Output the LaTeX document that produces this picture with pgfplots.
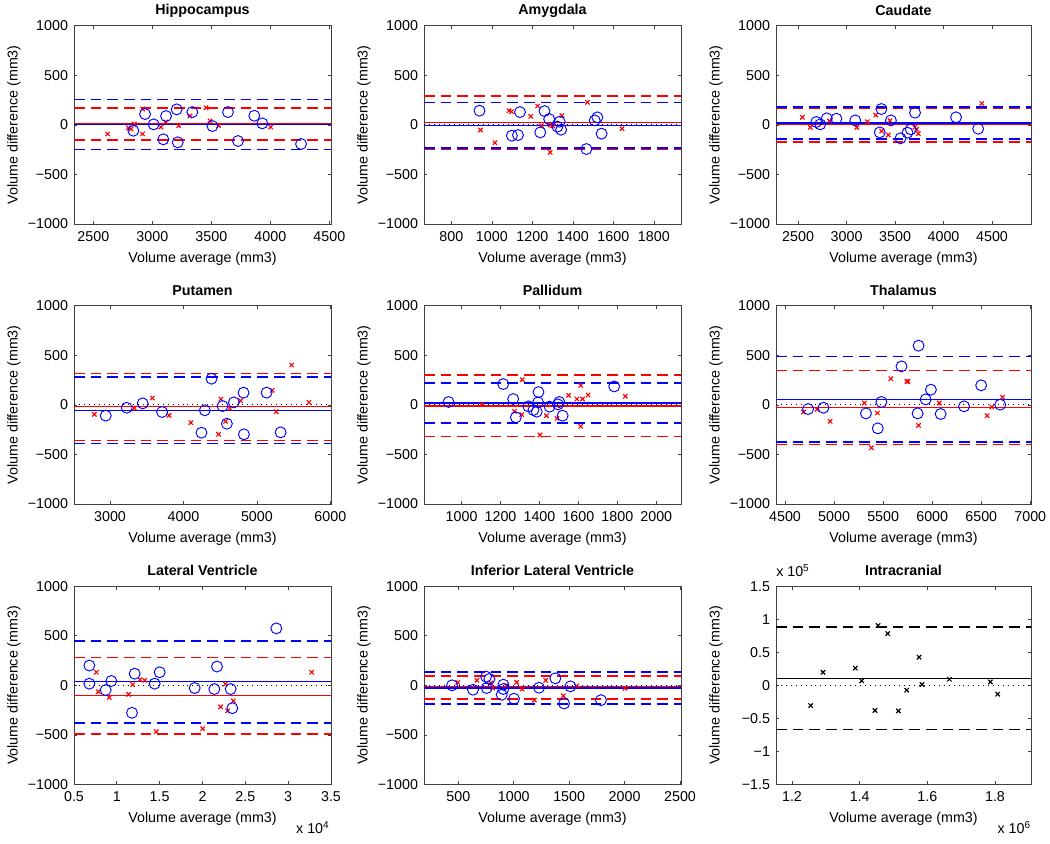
\documentclass[border=0pt]{standalone}
\usepackage{fontspec}
\setmainfont{Liberation Sans}
\usepackage{pgfplots}
\pgfplotsset{compat=1.18}
\definecolor{mblue}{rgb}{0,0,1}
\definecolor{mred}{rgb}{1,0,0}
\pgfplotsset{
  ba/.style={
    scale only axis, width=192.75pt, height=148.7pt, anchor=south west,
    clip mode=individual,
    ymin=-1000, ymax=1000, ytick={-1000,-500,0,500,1000},
    yticklabels={−1000,−500,0,500,1000},
    tick align=inside, major tick length=2.5pt,
    scaled ticks=false,
    font=\fontsize{10.7}{12.8}\selectfont,
    xlabel={Volume average (mm3)}, ylabel={Volume difference (mm3)},
    xlabel style={at={(axis description cs:0.5,0)}, anchor=center, yshift=-26pt},
    ylabel style={at={([xshift=-45pt]axis description cs:0,0.5)}, anchor=center, rotate=0},
    title style={at={(axis description cs:0.5,1)}, anchor=center, yshift=5.5pt, font=\fontsize{10.7}{12.8}\selectfont\bfseries},
    axis line style={black!75, line width=0.5pt},
    every tick/.style={black!75, line width=0.5pt},
    yticklabel style={xshift=-1pt},
    xticklabel style={yshift=-2pt},
  },
  circ/.style={only marks, mark=o, mark size=4.1pt, color=mblue, mark options={line width=0.7pt}},
  cross/.style={only marks, mark=x, mark size=2.3pt, color=mred, mark options={line width=0.85pt}},
  mline/.style={no marks, line width=1.05pt},
  dline/.style={no marks, line width=1.2pt, dash pattern=on 8pt off 4.5pt},
  zline/.style={no marks, black, line width=0.7pt, dash pattern=on 0.7pt off 3pt},
}
% #1 xmin #2 xmax #3 blue up #4 blue mean #5 blue low #6 red up #7 red mean #8 red low
\newcommand{\balines}[8]{%
  \addplot[zline] coordinates {(#1,0) (#2,0)};
  \addplot[mline, color=mred] coordinates {(#1,#7) (#2,#7)};
  \addplot[dline, color=mred] coordinates {(#1,#6) (#2,#6)};
  \addplot[dline, color=mred] coordinates {(#1,#8) (#2,#8)};
  \addplot[mline, color=mblue] coordinates {(#1,#4) (#2,#4)};
  \addplot[dline, color=mblue] coordinates {(#1,#3) (#2,#3)};
  \addplot[dline, color=mblue] coordinates {(#1,#5) (#2,#5)};
}
\begin{document}
\begin{tikzpicture}
\useasboundingbox (0,0) rectangle (787.5pt,632.25pt);

% ---------------- Hippocampus
\begin{axis}[ba, at={(55.5pt,464.25pt)}, title={Hippocampus},
  xmin=2336, xmax=4514, xtick={2500,3000,3500,4000,4500}, xticklabels={2500,3000,3500,4000,4500}]
\balines{2336}{4514}{257}{5}{-247}{173}{10}{-153}
\addplot[cross] coordinates {(2621,-92) (2797,-29) (2819,-42) (2847,8) (2918,-92) (2918,160) (3073,-22) (3113,29) (3223,-8) (3319,89) (3455,173) (3489,39) (3562,-8) (4003,-22)};
\addplot[circ] coordinates {(2839,-59) (2938,109) (3011,5) (3093,-146) (3116,89) (3206,156) (3215,-176) (3339,129) (3509,-12) (3641,129) (3726,-163) (3864,92) (3932,15) (4260,-193)};
\end{axis}

% ---------------- Amygdala
\begin{axis}[ba, at={(318pt,464.25pt)}, title={Amygdala},
  xmin=665, xmax=1934, xtick={800,1000,1200,1400,1600,1800}, xticklabels={800,1000,1200,1400,1600,1800}]
\balines{665}{1934}{225}{-5}{-235}{293}{22}{-248}
\addplot[cross] coordinates {(944,-52) (1015,-180) (1085,143) (1097,133) (1192,86) (1226,190) (1245,-8) (1288,-277) (1289,-2) (1346,93) (1472,227) (1643,-39) (1300,-10)};
\addplot[circ] coordinates {(939,143) (1099,-109) (1129,-103) (1139,129) (1239,-76) (1260,139) (1283,59) (1324,-18) (1335,32) (1342,-49) (1467,-244) (1508,45) (1521,76) (1542,-89)};
\end{axis}

% ---------------- Caudate
\begin{axis}[ba, at={(582pt,464.25pt)}, width=191.25pt, title={Caudate},
  xmin=2272, xmax=4902, xtick={2500,3000,3500,4000,4500}, xticklabels={2500,3000,3500,4000,4500}]
\balines{2272}{4902}{180}{18}{-145}{170}{2}{-175}
\addplot[cross] coordinates {(2544,76) (2626,-25) (2824,39) (3106,-25) (3215,32) (3301,99) (3362,-62) (3430,-102) (3447,42) (3703,-25) (3723,-45) (3740,-89) (4394,217)};
\addplot[circ] coordinates {(2687,29) (2728,5) (2796,66) (2895,62) (3089,45) (3342,-76) (3359,160) (3457,45) (3556,-136) (3628,-79) (3662,-45) (3706,123) (4129,76) (4357,-39)};
\end{axis}

% ---------------- Putamen
\begin{axis}[ba, at={(55.5pt,254.25pt)}, title={Putamen},
  xmin=2509, xmax=6009, xtick={3000,4000,5000,6000}, xticklabels={3000,4000,5000,6000}]
\balines{2509}{6009}{281}{-55}{-388}{318}{-18}{-358}
\addplot[cross] coordinates {(2786,-96) (3332,-32) (3577,69) (3805,-106) (4100,-180) (4477,-297) (4509,59) (4573,-166) (4632,-35) (4777,42) (5209,146) (5263,-69) (5473,402) (5709,25)};
\addplot[circ] coordinates {(2941,-109) (3227,-29) (3445,15) (3709,-72) (4245,-281) (4291,-55) (4382,264) (4532,-12) (4591,-190) (4686,25) (4818,123) (4823,-297) (5132,123) (5323,-277)};
\end{axis}

% ---------------- Pallidum
\begin{axis}[ba, at={(318pt,254.25pt)}, title={Pallidum},
  xmin=807, xmax=2127, xtick={1000,1200,1400,1600,1800,2000}, xticklabels={1000,1200,1400,1600,1800,2000}]
\balines{807}{2127}{220}{18}{-180}{304}{-10}{-318}
\addplot[cross] coordinates {(1103,2) (1312,254) (1272,-66) (1309,-99) (1403,-304) (1436,-109) (1490,-136) (1550,96) (1592,59) (1612,197) (1612,-217) (1621,59) (1650,99) (1841,86)};
\addplot[circ] coordinates {(933,29) (1214,210) (1265,59) (1279,-126) (1343,-15) (1369,-52) (1386,-69) (1395,129) (1393,25) (1452,-18) (1495,5) (1502,29) (1519,-109) (1784,186)};
\end{axis}

% ---------------- Thalamus
\begin{axis}[ba, at={(582pt,254.25pt)}, width=191.25pt, title={Thalamus},
  xmin=4408, xmax=7007, xtick={4500,5000,5500,6000,6500,7000}, xticklabels={4500,5000,5500,6000,6500,7000}]
\balines{4408}{7007}{486}{57}{-375}{348}{-27}{-398}
\addplot[cross] coordinates {(4688,-72) (4827,-45) (4960,-166) (5308,19) (5380,-432) (5441,-82) (5578,264) (5742,237) (5752,237) (5861,-207) (6072,19) (6560,-109) (6608,-22) (6717,76)};
\addplot[circ] coordinates {(4735,-42) (4892,-29) (5325,-86) (5445,-237) (5482,29) (5687,388) (5861,597) (5851,-86) (5933,55) (5987,153) (6086,-92) (6325,-15) (6499,197) (6693,2)};
\end{axis}

% ---------------- Lateral Ventricle
\begin{axis}[ba, at={(55.5pt,43.875pt)}, title={Lateral Ventricle},
  xmin=5000, xmax=35000, xtick={5000,10000,15000,20000,25000,30000,35000}, xticklabels={0.5,1,1.5,2,2.5,3,3.5}]
\balines{5000}{35000}{447}{40}{-377}{280}{-105}{-490}
\addplot[cross] coordinates {(7607,132) (7840,-64) (9124,-122) (11381,-91) (11848,7) (12704,58) (13249,51) (14611,-467) (20019,-437) (22120,-217) (22665,14) (22937,-257) (23599,-156) (32742,132)};
\addplot[circ] coordinates {(6790,200) (6790,17) (8697,-47) (9358,44) (11770,-277) (12082,118) (14416,17) (15000,132) (19086,-27) (21381,-37) (21693,190) (23288,-37) (23483,-230) (28619,575)};
\node[anchor=base east, inner sep=0pt] at ([xshift=-1pt,yshift=-37pt]axis description cs:1,0) {x 10\textsuperscript{4}};
\end{axis}

% ---------------- Inferior Lateral Ventricle
\begin{axis}[ba, at={(318pt,43.875pt)}, title={Inferior Lateral Ventricle},
  xmin=190, xmax=2509, xtick={500,1000,1500,2000,2500}, xticklabels={500,1000,1500,2000,2500}]
\balines{190}{2509}{132}{-28}{-190}{95}{-18}{-135}
\addplot[cross] coordinates {(494,30) (668,51) (792,24) (810,-27) (936,0) (1026,30) (1075,-37) (1186,-149) (1288,51) (1447,-105) (1568,-7) (2004,-30)};
\addplot[circ] coordinates {(443,0) (632,-44) (750,88) (756,-27) (780,64) (891,-95) (906,7) (906,-37) (1002,-135) (1228,-24) (1375,71) (1454,-183) (1511,-10) (1787,-149)};
\end{axis}

% ---------------- Intracranial
\begin{axis}[ba, at={(582pt,43.875pt)}, width=191.25pt, title={Intracranial},
  xmin=1152700, xmax=1906400, xtick={1200000,1400000,1600000,1800000}, xticklabels={1.2,1.4,1.6,1.8},
  ymin=-150000, ymax=150000, ytick={-150000,-100000,-50000,0,50000,100000,150000},
  yticklabels={−1.5,−1,−0.5,0,0.5,1,1.5}]
\addplot[zline] coordinates {(1152700,0) (1906400,0)};
\addplot[mline, color=black] coordinates {(1152700,10500) (1906400,10500)};
\addplot[dline, color=black] coordinates {(1152700,88000) (1906400,88000)};
\addplot[dline, color=black] coordinates {(1152700,-67000) (1906400,-67000)};
\addplot[cross, color=black] coordinates {(1255200,-30500) (1291600,19900) (1387200,26000) (1405900,6800) (1445300,-38000) (1454200,90500) (1482800,78400) (1514300,-38600) (1538900,-7300) (1575400,42600) (1584200,1300) (1665000,9300) (1786200,5300) (1807900,-13400)};
\node[anchor=base west, inner sep=0pt] at ([yshift=7.3pt]axis description cs:0,1) {x 10\textsuperscript{5}};
\node[anchor=base east, inner sep=0pt] at ([yshift=-37pt]axis description cs:1,0) {x 10\textsuperscript{6}};
\end{axis}
\end{tikzpicture}
\end{document}
